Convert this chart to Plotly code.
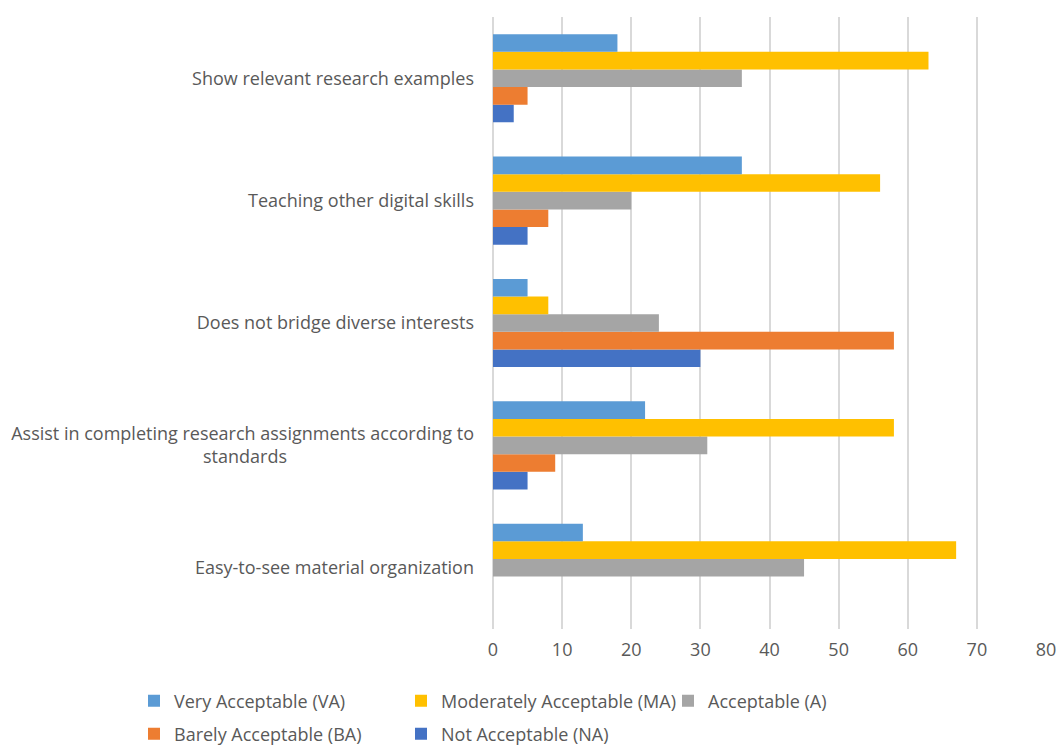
import plotly.graph_objects as go

categories = [
    "Easy-to-see material organization",
    "Assist in completing research assignments according to<br>standards",
    "Does not bridge diverse interests",
    "Teaching other digital skills",
    "Show relevant research examples",
]
series_names = [
    "Very Acceptable (VA)",
    "Moderately Acceptable (MA)",
    "Acceptable (A)",
    "Barely Acceptable (BA)",
    "Not Acceptable (NA)",
]
va = [13, 22, 5, 36, 18]
ma = [67, 58, 8, 56, 63]
a = [45, 31, 24, 20, 36]
ba = [0, 9, 58, 8, 5]
na = [0, 5, 30, 5, 3]
colors = ["#5B9BD5", "#FFC000", "#A5A5A5", "#ED7D31", "#4472C4"]
x_ticks = [0, 10, 20, 30, 40, 50, 60, 70, 80]

# centre the second line of the wrapped label
pad = "\u00a0" * 40
cat_labels = [c.replace("<br>standards", "<br>standards" + pad) for c in categories]

values = [va, ma, a, ba, na]
legend_ids = ["legend", "legend2", "legend3", "legend4", "legend5"]
# legend entry placement (px in the 1059x749 page): left, vertical centre
legend_pos = [(134, 701), (401, 701), (668, 701), (134, 734), (401, 734)]

fig = go.Figure()
# add in reverse so VA sits at top of each group
for i in reversed(range(5)):
    fig.add_trace(go.Bar(
        y=cat_labels, x=values[i], orientation="h", name=series_names[i],
        marker=dict(color=colors[i], line=dict(width=0)),
        legend=legend_ids[i],
    ))

TXT = "#595959"
W, H = 1059, 749
legends = {}
for lid, (px, py) in zip(legend_ids, legend_pos):
    legends[lid] = dict(orientation="h", xref="container", yref="container",
                        x=px / W, y=1 - py / H, xanchor="left", yanchor="middle",
                        font=dict(family="Open Sans", size=18, color=TXT),
                        bgcolor="rgba(0,0,0,0)")

fig.update_layout(
    width=W, height=H,
    barmode="group", bargap=0.28, bargroupgap=0,
    plot_bgcolor="white", paper_bgcolor="white",
    font=dict(family="Open Sans", size=18, color=TXT),
    margin=dict(l=493, r=13, t=17, b=120, autoexpand=False),
    xaxis=dict(range=[0, 80], tickvals=x_ticks, showgrid=True, gridcolor="#D9D9D9",
               gridwidth=2, zeroline=True, zerolinecolor="#D9D9D9", zerolinewidth=2,
               showline=False, ticks="",
               ticklabelstandoff=8,
               tickfont=dict(size=18, color=TXT)),
    yaxis=dict(showgrid=False, zeroline=False, showline=False, ticks="",
               ticklabelstandoff=18, tickfont=dict(size=18, color=TXT)),
    showlegend=True,
    **legends,
)

fig.write_html("out.html")
